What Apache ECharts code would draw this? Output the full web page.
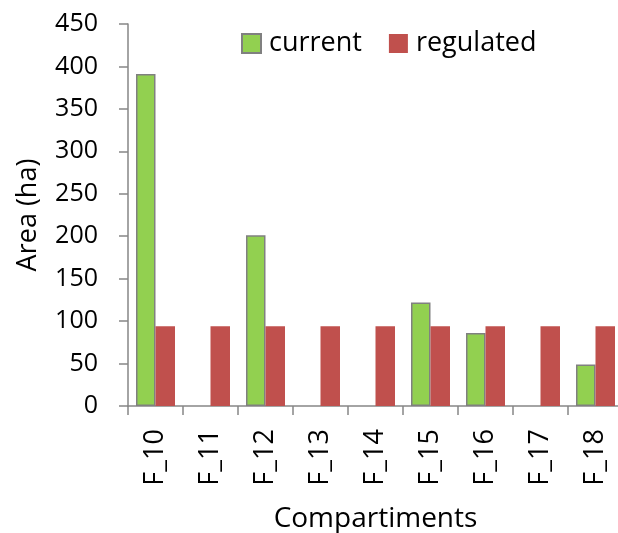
<!DOCTYPE html>
<html><head><meta charset="utf-8">
<script src="https://cdn.jsdelivr.net/npm/echarts@6/dist/echarts.min.js"></script>
<style>html,body{margin:0;padding:0;background:#fff}#c{width:618px;height:533px}</style>
</head><body><div id="c"></div>
<script>
const categories = ['F_10','F_11','F_12','F_13','F_14','F_15','F_16','F_17','F_18'];
const current = [391, null, 201, null, null, 122, 86, null, 49];
const regulated = [94, 94, 94, 94, 94, 94, 94, 94, 94];
const yTicks = {min: 0, max: 450, interval: 50};

const FONT = 'Open Sans';
const chart = echarts.init(document.getElementById('c'));
chart.setOption({
  animation: false,
  textStyle: {fontFamily: FONT, color: '#000'},
  legend: {
    top: 25, left: 236, itemGap: 27, itemWidth: 19, itemHeight: 19, icon: 'rect',
    textStyle: {fontFamily: FONT, fontSize: 27, color: '#000', padding: [0, 0, 0, 3]},
    data: ['current', 'regulated']
  },
  grid: {left: 128, top: 24, width: 495, height: 382, containLabel: false, outerBoundsMode: 'none'},
  xAxis: {
    type: 'category', data: categories,
    name: 'Compartiments', nameLocation: 'middle', nameGap: 99,
    nameTextStyle: {fontFamily: FONT, fontSize: 28, color: '#000'},
    axisLine: {lineStyle: {color: '#868686', width: 1.5}},
    axisTick: {show: true, length: 9, alignWithLabel: false, lineStyle: {color: '#868686', width: 1.5}},
    axisLabel: {rotate: 90, margin: 23, fontFamily: FONT, fontSize: 27, color: '#000', interval: 0}
  },
  yAxis: {
    type: 'value', min: yTicks.min, max: yTicks.max, interval: yTicks.interval,
    name: 'Area (ha)', nameLocation: 'middle', nameGap: 86, nameRotate: 90,
    nameTextStyle: {fontFamily: FONT, fontSize: 27, color: '#000'},
    splitLine: {show: false},
    axisLine: {show: true, lineStyle: {color: '#868686', width: 1.5}},
    axisTick: {show: true, length: 9, lineStyle: {color: '#868686', width: 1.5}},
    axisLabel: {margin: 30, fontFamily: FONT, fontSize: 25, color: '#000'}
  },
  series: [
    {name: 'current', type: 'bar', data: current, barWidth: 19.5, barGap: '0%',
     itemStyle: {color: '#92D050', borderColor: '#808080', borderWidth: 1.5}},
    {name: 'regulated', type: 'bar', data: regulated, barWidth: 19.5,
     itemStyle: {color: '#C0504D'}}
  ]
});
</script></body></html>
